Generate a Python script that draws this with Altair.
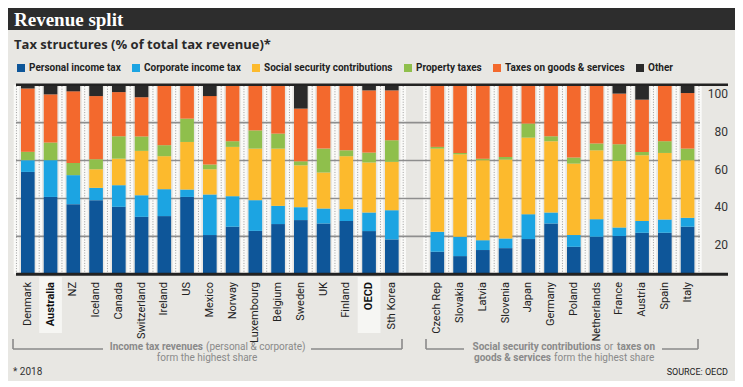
import altair as alt
import pandas as pd

countries_left = ["Denmark", "Australia", "NZ", "Iceland", "Canada", "Switzerland", "Ireland", "US",
                  "Mexico", "Norway", "Luxembourg", "Belgium", "Sweden", "UK", "Finland", "OECD", "Sth Korea"]
countries_right = ["Czech Rep", "Slovakia", "Latvia", "Slovenia", "Japan", "Germany", "Poland",
                   "Netherlands", "France", "Austria", "Spain", "Italy"]
categories = ["Personal income tax", "Corporate income tax", "Social security contributions",
              "Property taxes", "Taxes on goods & services", "Other"]
colors = ["#0e5699", "#1ca4e2", "#fcba2d", "#8fbf4c", "#f3692d", "#2a2a2a"]

personal = [54.0, 40.8, 37.0, 39.1, 35.6, 30.3, 30.7, 40.8, 20.7, 25.1, 22.9, 26.5, 28.6, 26.8, 28.1, 22.8, 18.4,
            11.9, 9.6, 12.8, 13.8, 18.6, 26.8, 14.5, 19.8, 20.2, 21.9, 21.9, 25.1]
corporate = [6.2, 19.4, 15.3, 6.5, 11.4, 11.4, 14.2, 3.9, 21.4, 16.1, 16.2, 9.6, 6.8, 7.9, 6.3, 9.8, 15.4,
             10.5, 10.2, 5.2, 5.1, 13.1, 5.8, 6.2, 9.3, 4.5, 6.2, 7.0, 4.7]
social = [0.1, 0.0, 0.0, 9.8, 14.0, 23.4, 17.4, 25.1, 13.3, 26.0, 27.2, 30.2, 22.1, 19.0, 27.9, 26.4, 25.5,
          43.9, 43.5, 42.2, 41.6, 40.4, 37.6, 37.7, 36.3, 35.1, 34.7, 35.1, 30.4]
property_taxes = [4.3, 9.3, 6.4, 5.3, 11.8, 7.6, 5.8, 12.3, 2.5, 3.0, 9.6, 7.9, 2.1, 12.6, 3.1, 5.2, 11.4,
                  0.9, 0.7, 0.8, 1.4, 7.4, 2.6, 3.2, 3.6, 8.8, 1.7, 6.2, 6.1]
goods_services = [33.4, 25.4, 37.8, 33.3, 23.3, 20.7, 31.4, 17.9, 36.1, 29.8, 24.1, 25.8, 27.8, 33.7, 34.6, 32.8, 26.3,
                  32.8, 36.0, 39.0, 38.1, 20.5, 27.2, 38.4, 31.0, 26.7, 27.6, 29.8, 29.3]
other = [2.0, 5.1, 3.5, 6.0, 3.9, 6.6, 0.5, 0.0, 6.0, 0.0, 0.0, 0.0, 12.6, 0.0, 0.0, 3.0, 3.0,
         0.0, 0.0, 0.0, 0.0, 0.0, 0.0, 0.0, 0.0, 4.7, 7.9, 0.0, 4.4]
highlighted = ["Australia", "OECD"]
tick_values = [20, 40, 60, 80, 100]

countries = countries_left + countries_right
slots = countries_left + [" "] + countries_right
series = [personal, corporate, social, property_taxes, goods_services, other]

rows = []
for ci, c in enumerate(countries):
    for k, cat in enumerate(categories):
        rows.append({"country": c, "category": cat, "order": k, "value": series[k][ci]})
df = pd.DataFrame(rows)
df_c = pd.DataFrame({"country": countries, "hl": [c in highlighted for c in countries]})
df_t = pd.DataFrame({"v": tick_values})
one = pd.DataFrame({"k": [0]})

W, H = 727, 373
BG = "#e8e7e3"
FONT = "Roboto, 'Open Sans', sans-serif"
STEP = 22.75
Y0, Y100 = 266.3, 76.7

xs = alt.Scale(domain=slots, range=[8.45, 690.95], paddingInner=0.4, paddingOuter=0.2)
ys = alt.Scale(domain=[0, 100], range=[Y0, Y100], nice=False, zero=False)
X = alt.X("country:N", scale=xs, axis=None)

def seg(x1, y1, x2, y2, color="#8a8a8a", w=1.6):
    return alt.Chart(one).mark_rule(color=color, strokeWidth=w).encode(
        x=alt.value(x1), x2=alt.value(x2), y=alt.value(y1), y2=alt.value(y2))

def txt(t, x, y, size, weight="normal", align="left", color="#222222", font=FONT):
    return alt.Chart(one).mark_text(text=t, font=font, fontSize=size, fontWeight=weight,
                                    align=align, baseline="middle", color=color).encode(
        x=alt.value(x), y=alt.value(y))

layers = []
# title bar
layers.append(alt.Chart(one).mark_rect(color="#2d2d2d").encode(
    x=alt.value(0), x2=alt.value(W), y=alt.value(0), y2=alt.value(22)))
layers.append(txt("Revenue split", 6, 11.5, 19, "bold", color="#ffffff",
                  font="'Liberation Serif', 'DejaVu Serif', serif"))
layers.append(txt("Tax structures (% of total tax revenue)*", 6, 37, 13, "bold", color="#2a2a2a",
                  font="'Open Sans', Roboto, sans-serif"))

# column stripes
for off in (-STEP / 2, STEP / 2):
    layers.append(alt.Chart(df_c).mark_rule(color="#fafaf8", strokeWidth=5.5, xOffset=off).encode(
        x=X, y=alt.value(Y0), y2=alt.value(Y100)))
    layers.append(alt.Chart(df_c).mark_rule(color="#9c9c9c", strokeWidth=1, strokeDash=[1, 1.6], xOffset=off).encode(
        x=X, y=alt.value(Y0), y2=alt.value(Y100)))

# gridlines
layers.append(alt.Chart(df_t).transform_filter("datum.v < 100").mark_rule(color="#8e8e8e", strokeWidth=1.6).encode(
    y=alt.Y("v:Q", scale=ys, axis=None), x=alt.value(8), x2=alt.value(692)))

# bars
layers.append(alt.Chart(df).mark_bar().encode(
    x=X,
    y=alt.Y("value:Q", stack="zero", scale=ys, axis=None),
    color=alt.Color("category:N", scale=alt.Scale(domain=categories, range=colors),
                    legend=alt.Legend(orient="none", legendX=8, legendY=55, direction="horizontal",
                                      title=None, symbolType="square", symbolSize=64, symbolStrokeWidth=0,
                                      symbolOpacity=1, labelFont=FONT, labelFontSize=10,
                                      labelFontWeight="bold", labelColor="#1f1f1f", columnPadding=10,
                                      labelOffset=3, padding=0)),
    order=alt.Order("order:Q", sort="ascending"),
))

# top line and baseline
layers.append(alt.Chart(df_t).transform_filter("datum.v == 100").mark_rule(color="#222222", strokeWidth=2.4).encode(
    y=alt.Y("v:Q", scale=ys, axis=None), x=alt.value(8), x2=alt.value(720)))
layers.append(seg(8, Y0, 720, Y0, color="#222222", w=3))

# tick labels
layers.append(alt.Chart(df_t).mark_text(align="right", baseline="middle", dy=9, font=FONT, fontSize=12,
                                        color="#333333").encode(
    y=alt.Y("v:Q", scale=ys, axis=None), x=alt.value(720), text="v:Q"))

# highlight boxes for labels
layers.append(alt.Chart(df_c).transform_filter("datum.hl").mark_rule(color="#f6f6f3", strokeWidth=STEP).encode(
    x=X, y=alt.value(269), y2=alt.value(325)))

# country labels
layers.append(alt.Chart(df_c).transform_filter("!datum.hl").mark_text(
    angle=270, align="right", baseline="middle", font=FONT, fontSize=11, color="#222222").encode(
    x=X, y=alt.value(274), text="country:N"))
layers.append(alt.Chart(df_c).transform_filter("datum.hl").mark_text(
    angle=270, align="right", baseline="middle", font=FONT, fontSize=11, fontWeight="bold", color="#111111").encode(
    x=X, y=alt.value(274), text="country:N"))

# brackets
G = "#8a8a8a"
layers += [seg(5, 331, 5, 341), seg(5, 341, 95, 341), seg(303, 341, 394, 341), seg(394, 331, 394, 341),
           seg(418, 331, 418, 341), seg(418, 341, 456, 341), seg(654, 341, 690, 341), seg(690, 331, 690, 341)]
layers += [
    txt("Income tax revenues", 195, 339, 10, "bold", "right", G),
    txt("(personal & corporate)", 198, 339, 10, "normal", "left", G),
    txt("form the highest share", 199, 350, 10, "normal", "center", G),
    txt("Social security contributions", 593, 339, 10, "bold", "right", G),
    txt("or", 596, 339, 10, "normal", "left", G),
    txt("taxes on", 609, 339, 10, "bold", "left", G),
    txt("goods & services", 543, 350, 10, "bold", "right", G),
    txt("form the highest share", 546, 350, 10, "normal", "left", G),
]
layers.append(txt("* 2018", 5, 364, 10, color="#333333"))
layers.append(txt("SOURCE: OECD", 720, 364, 9, color="#222222", align="right"))

chart = alt.layer(*layers).properties(
    width=W, height=H, background=BG, padding=0,
    autosize=alt.AutoSizeParams(type="none"),
).configure_view(stroke=None)

chart.save("out.html", embed_options={"renderer": "svg", "actions": False})
